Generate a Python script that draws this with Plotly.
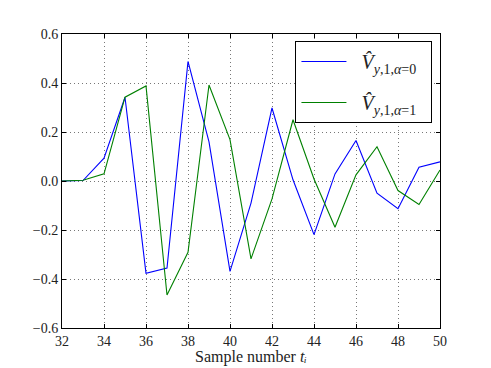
import plotly.graph_objects as go

samples = list(range(32, 51))
v_alpha0 = [0.0, 0.002, 0.093, 0.342, -0.377, -0.355, 0.488, 0.16, -0.369, -0.09,
            0.298, 0.005, -0.219, 0.029, 0.165, -0.05, -0.113, 0.056, 0.078]
v_alpha1 = [0.0, 0.003, 0.029, 0.342, 0.388, -0.465, -0.291, 0.392, 0.169, -0.318,
            -0.073, 0.25, 0.008, -0.189, 0.025, 0.14, -0.039, -0.096, 0.045]

x_ticks = list(range(32, 51, 2))
y_ticks = [-0.6, -0.4, -0.2, 0.0, 0.2, 0.4, 0.6]
y_labels = ["\u22120.6", "\u22120.4", "\u22120.2", "0.0", "0.2", "0.4", "0.6"]

FONT = "Liberation Serif"

fig = go.Figure()
fig.add_trace(go.Scatter(
    x=samples, y=v_alpha0, mode="lines",
    line=dict(color="#0000ff", width=1.1),
    legendgroup="a0",
    name="  <i>V\u0302</i><sub><i>y</i>,1,<i>\u03b1</i>=0</sub>  ",
))
fig.add_trace(go.Scatter(
    x=samples, y=v_alpha1, mode="lines",
    line=dict(color="#008000", width=1.1),
    legendgroup="a1",
    name="  <i>V\u0302</i><sub><i>y</i>,1,<i>\u03b1</i>=1</sub>  ",
))

axis_common = dict(
    showline=True, linecolor="black", linewidth=1, mirror="allticks",
    ticks="inside", ticklen=4, tickcolor="black",
    showgrid=True, gridcolor="#777", griddash="1px,3px", gridwidth=1,
    zeroline=False, automargin=False,
    tickfont=dict(family=FONT, size=14, color="#222"),
)

fig.update_xaxes(range=[32, 50], tickvals=x_ticks, **axis_common)
fig.update_yaxes(range=[-0.6, 0.6], tickvals=y_ticks, ticktext=y_labels, **axis_common)

# x-axis title as an annotation, placed right at the bottom edge
fig.add_annotation(
    text="Sample number <i>t\u1d62</i>",
    xref="paper", yref="paper", x=0.5, y=-0.136,
    xanchor="center", yanchor="bottom", showarrow=False,
    font=dict(family=FONT, size=16, color="#222"),
)

fig.update_layout(
    width=483, height=360,
    margin=dict(l=54, r=51, t=26, b=40),
    plot_bgcolor="white", paper_bgcolor="white",
    font=dict(family=FONT, color="#222"),
    legend=dict(
        x=0.98, y=0.976, xanchor="right", yanchor="top",
        bgcolor="white", bordercolor="black", borderwidth=1,
        itemwidth=45, tracegroupgap=12,
        font=dict(family=FONT, size=20, color="#222"),
    ),
)

fig.write_html("out.html")
